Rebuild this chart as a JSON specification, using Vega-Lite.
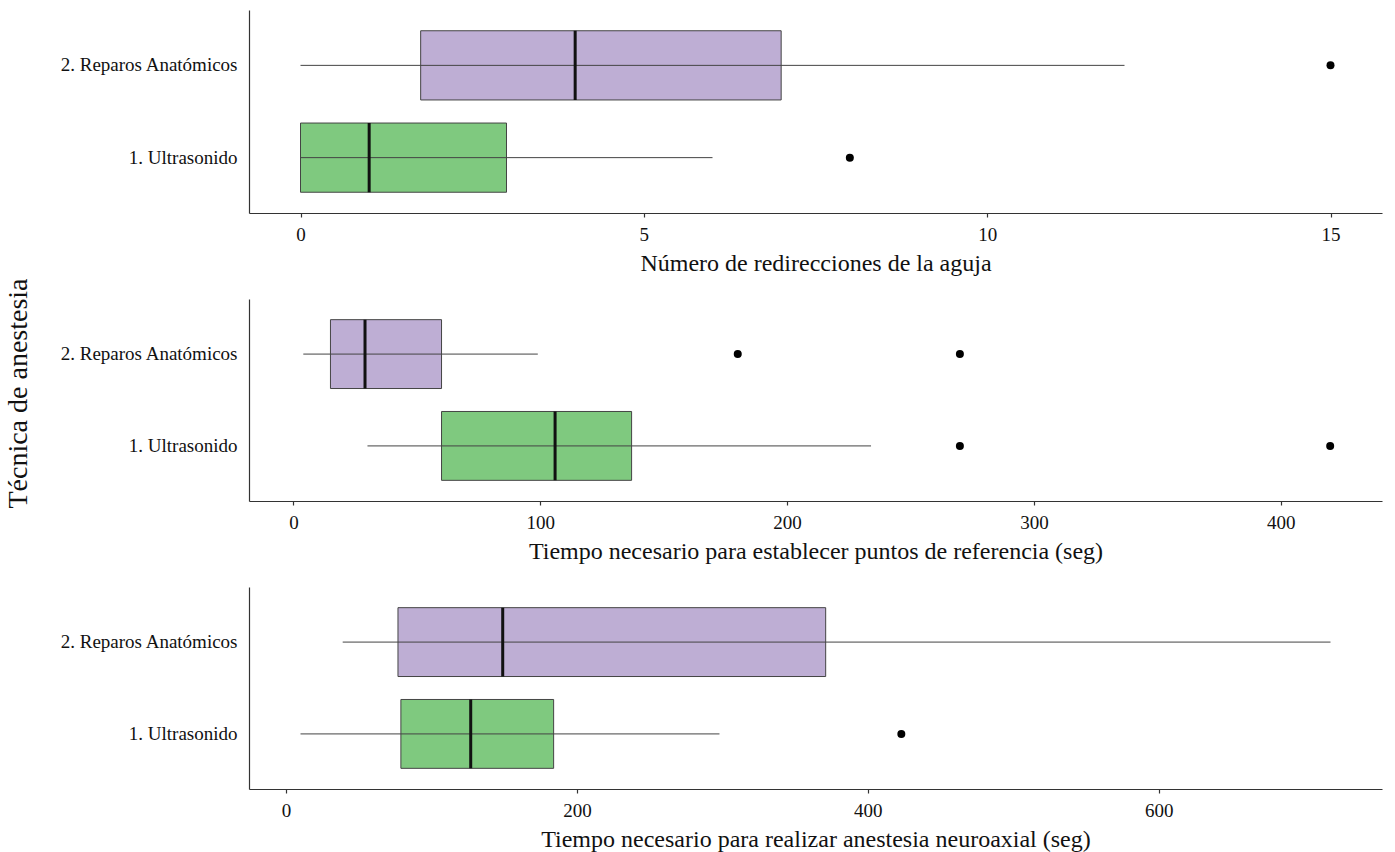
{
  "$schema": "https://vega.github.io/schema/vega-lite/v6.json",
  "background": "white",
  "padding": {"left": 4, "top": 10, "right": 12, "bottom": 5},
  "bounds": "flush",
  "spacing": 86,
  "config": {
    "view": {"stroke": null},
    "font": "Liberation Serif",
    "axis": {
      "labelFont": "Liberation Serif",
      "titleFont": "Liberation Serif",
      "labelColor": "#111",
      "titleColor": "#111",
      "titleFontWeight": "normal",
      "domainColor": "#333",
      "domainWidth": 1.2,
      "tickColor": "#333",
      "tickWidth": 1.2,
      "grid": false,
      "labelFontSize": 19,
      "titleFontSize": 24
    }
  },
  "datasets": {
    "boxes": [
      {"variable": "redirecciones", "grupo": "2. Reparos Anatómicos", "lo": 0, "q1": 1.75, "med": 4, "q3": 7, "hi": 12},
      {"variable": "redirecciones", "grupo": "1. Ultrasonido", "lo": 0, "q1": 0, "med": 1, "q3": 3, "hi": 6},
      {"variable": "referencia", "grupo": "2. Reparos Anatómicos", "lo": 4, "q1": 15, "med": 29, "q3": 60, "hi": 99},
      {"variable": "referencia", "grupo": "1. Ultrasonido", "lo": 30, "q1": 60, "med": 106, "q3": 137, "hi": 234},
      {"variable": "anestesia", "grupo": "2. Reparos Anatómicos", "lo": 39, "q1": 77, "med": 149, "q3": 371, "hi": 718},
      {"variable": "anestesia", "grupo": "1. Ultrasonido", "lo": 10, "q1": 79, "med": 127, "q3": 184, "hi": 298}
    ],
    "outliers": [
      {"variable": "redirecciones", "grupo": "2. Reparos Anatómicos", "valor": 15},
      {"variable": "redirecciones", "grupo": "1. Ultrasonido", "valor": 8},
      {"variable": "referencia", "grupo": "2. Reparos Anatómicos", "valor": 180},
      {"variable": "referencia", "grupo": "2. Reparos Anatómicos", "valor": 270},
      {"variable": "referencia", "grupo": "1. Ultrasonido", "valor": 270},
      {"variable": "referencia", "grupo": "1. Ultrasonido", "valor": 420},
      {"variable": "anestesia", "grupo": "1. Ultrasonido", "valor": 423}
    ]
  },
  "vconcat": [
    {
      "width": 1133,
      "height": 203,
      "layer": [
        {
          "data": {"name": "boxes"},
          "transform": [{"filter": "datum.variable == 'redirecciones'"}],
          "mark": {"type": "bar", "stroke": "#444", "strokeWidth": 1},
          "encoding": {
            "y": {"field": "grupo", "type": "nominal", "sort": ["2. Reparos Anatómicos", "1. Ultrasonido"], "scale": {"paddingInner": 0.25, "paddingOuter": 0.225}, "axis": {"title": null, "ticks": false, "labelPadding": 12}},
            "x": {"field": "q1", "type": "quantitative", "scale": {"domain": [-0.75, 15.75], "nice": false, "zero": false}, "axis": {"title": "Número de redirecciones de la aguja", "values": [0, 5, 10, 15], "format": "d", "tickSize": 4, "labelPadding": 8, "titlePadding": 7, "labelOverlap": false}},
            "x2": {"field": "q3"},
            "color": {"field": "grupo", "type": "nominal", "scale": {"domain": ["1. Ultrasonido", "2. Reparos Anatómicos"], "range": ["#7FC97F", "#BEAED4"]}, "legend": null}
          }
        },
        {
          "data": {"name": "boxes"},
          "transform": [{"filter": "datum.variable == 'redirecciones'"}],
          "mark": {"type": "rule", "color": "#444", "strokeWidth": 1},
          "encoding": {
            "y": {"field": "grupo", "type": "nominal", "sort": ["2. Reparos Anatómicos", "1. Ultrasonido"]},
            "x": {"field": "lo", "type": "quantitative"},
            "x2": {"field": "hi"}
          }
        },
        {
          "data": {"name": "boxes"},
          "transform": [{"filter": "datum.variable == 'redirecciones'"}],
          "mark": {"type": "rect", "stroke": "#111", "strokeWidth": 3},
          "encoding": {
            "y": {"field": "grupo", "type": "nominal", "sort": ["2. Reparos Anatómicos", "1. Ultrasonido"]},
            "x": {"field": "med", "type": "quantitative"},
            "x2": {"field": "med"}
          }
        },
        {
          "data": {"name": "outliers"},
          "transform": [{"filter": "datum.variable == 'redirecciones'"}],
          "mark": {"type": "circle", "color": "#000", "opacity": 1, "size": 64},
          "encoding": {
            "y": {"field": "grupo", "type": "nominal", "sort": ["2. Reparos Anatómicos", "1. Ultrasonido"]},
            "x": {"field": "valor", "type": "quantitative"}
          }
        }
      ]
    },
    {
      "width": 1133,
      "height": 202,
      "layer": [
        {
          "data": {"name": "boxes"},
          "transform": [{"filter": "datum.variable == 'referencia'"}],
          "mark": {"type": "bar", "stroke": "#444", "strokeWidth": 1},
          "encoding": {
            "y": {"field": "grupo", "type": "nominal", "sort": ["2. Reparos Anatómicos", "1. Ultrasonido"], "scale": {"paddingInner": 0.25, "paddingOuter": 0.225}, "axis": {"title": "Técnica de anestesia", "titleFontSize": 28, "titlePadding": 27, "titleY": 94, "ticks": false, "labelPadding": 12}},
            "x": {"field": "q1", "type": "quantitative", "scale": {"domain": [-18, 441], "nice": false, "zero": false}, "axis": {"title": "Tiempo necesario para establecer puntos de referencia (seg)", "values": [0, 100, 200, 300, 400], "tickSize": 4, "labelPadding": 8, "titlePadding": 7, "labelOverlap": false}},
            "x2": {"field": "q3"},
            "color": {"field": "grupo", "type": "nominal", "scale": {"domain": ["1. Ultrasonido", "2. Reparos Anatómicos"], "range": ["#7FC97F", "#BEAED4"]}, "legend": null}
          }
        },
        {
          "data": {"name": "boxes"},
          "transform": [{"filter": "datum.variable == 'referencia'"}],
          "mark": {"type": "rule", "color": "#444", "strokeWidth": 1},
          "encoding": {
            "y": {"field": "grupo", "type": "nominal", "sort": ["2. Reparos Anatómicos", "1. Ultrasonido"]},
            "x": {"field": "lo", "type": "quantitative"},
            "x2": {"field": "hi"}
          }
        },
        {
          "data": {"name": "boxes"},
          "transform": [{"filter": "datum.variable == 'referencia'"}],
          "mark": {"type": "rect", "stroke": "#111", "strokeWidth": 3},
          "encoding": {
            "y": {"field": "grupo", "type": "nominal", "sort": ["2. Reparos Anatómicos", "1. Ultrasonido"]},
            "x": {"field": "med", "type": "quantitative"},
            "x2": {"field": "med"}
          }
        },
        {
          "data": {"name": "outliers"},
          "transform": [{"filter": "datum.variable == 'referencia'"}],
          "mark": {"type": "circle", "color": "#000", "opacity": 1, "size": 64},
          "encoding": {
            "y": {"field": "grupo", "type": "nominal", "sort": ["2. Reparos Anatómicos", "1. Ultrasonido"]},
            "x": {"field": "valor", "type": "quantitative"}
          }
        }
      ]
    },
    {
      "width": 1133,
      "height": 202,
      "layer": [
        {
          "data": {"name": "boxes"},
          "transform": [{"filter": "datum.variable == 'anestesia'"}],
          "mark": {"type": "bar", "stroke": "#444", "strokeWidth": 1},
          "encoding": {
            "y": {"field": "grupo", "type": "nominal", "sort": ["2. Reparos Anatómicos", "1. Ultrasonido"], "scale": {"paddingInner": 0.25, "paddingOuter": 0.225}, "axis": {"title": null, "ticks": false, "labelPadding": 12}},
            "x": {"field": "q1", "type": "quantitative", "scale": {"domain": [-25.4, 753.4], "nice": false, "zero": false}, "axis": {"title": "Tiempo necesario para realizar anestesia neuroaxial (seg)", "values": [0, 200, 400, 600], "tickSize": 4, "labelPadding": 8, "titlePadding": 7, "labelOverlap": false}},
            "x2": {"field": "q3"},
            "color": {"field": "grupo", "type": "nominal", "scale": {"domain": ["1. Ultrasonido", "2. Reparos Anatómicos"], "range": ["#7FC97F", "#BEAED4"]}, "legend": null}
          }
        },
        {
          "data": {"name": "boxes"},
          "transform": [{"filter": "datum.variable == 'anestesia'"}],
          "mark": {"type": "rule", "color": "#444", "strokeWidth": 1},
          "encoding": {
            "y": {"field": "grupo", "type": "nominal", "sort": ["2. Reparos Anatómicos", "1. Ultrasonido"]},
            "x": {"field": "lo", "type": "quantitative"},
            "x2": {"field": "hi"}
          }
        },
        {
          "data": {"name": "boxes"},
          "transform": [{"filter": "datum.variable == 'anestesia'"}],
          "mark": {"type": "rect", "stroke": "#111", "strokeWidth": 3},
          "encoding": {
            "y": {"field": "grupo", "type": "nominal", "sort": ["2. Reparos Anatómicos", "1. Ultrasonido"]},
            "x": {"field": "med", "type": "quantitative"},
            "x2": {"field": "med"}
          }
        },
        {
          "data": {"name": "outliers"},
          "transform": [{"filter": "datum.variable == 'anestesia'"}],
          "mark": {"type": "circle", "color": "#000", "opacity": 1, "size": 64},
          "encoding": {
            "y": {"field": "grupo", "type": "nominal", "sort": ["2. Reparos Anatómicos", "1. Ultrasonido"]},
            "x": {"field": "valor", "type": "quantitative"}
          }
        }
      ]
    }
  ]
}
